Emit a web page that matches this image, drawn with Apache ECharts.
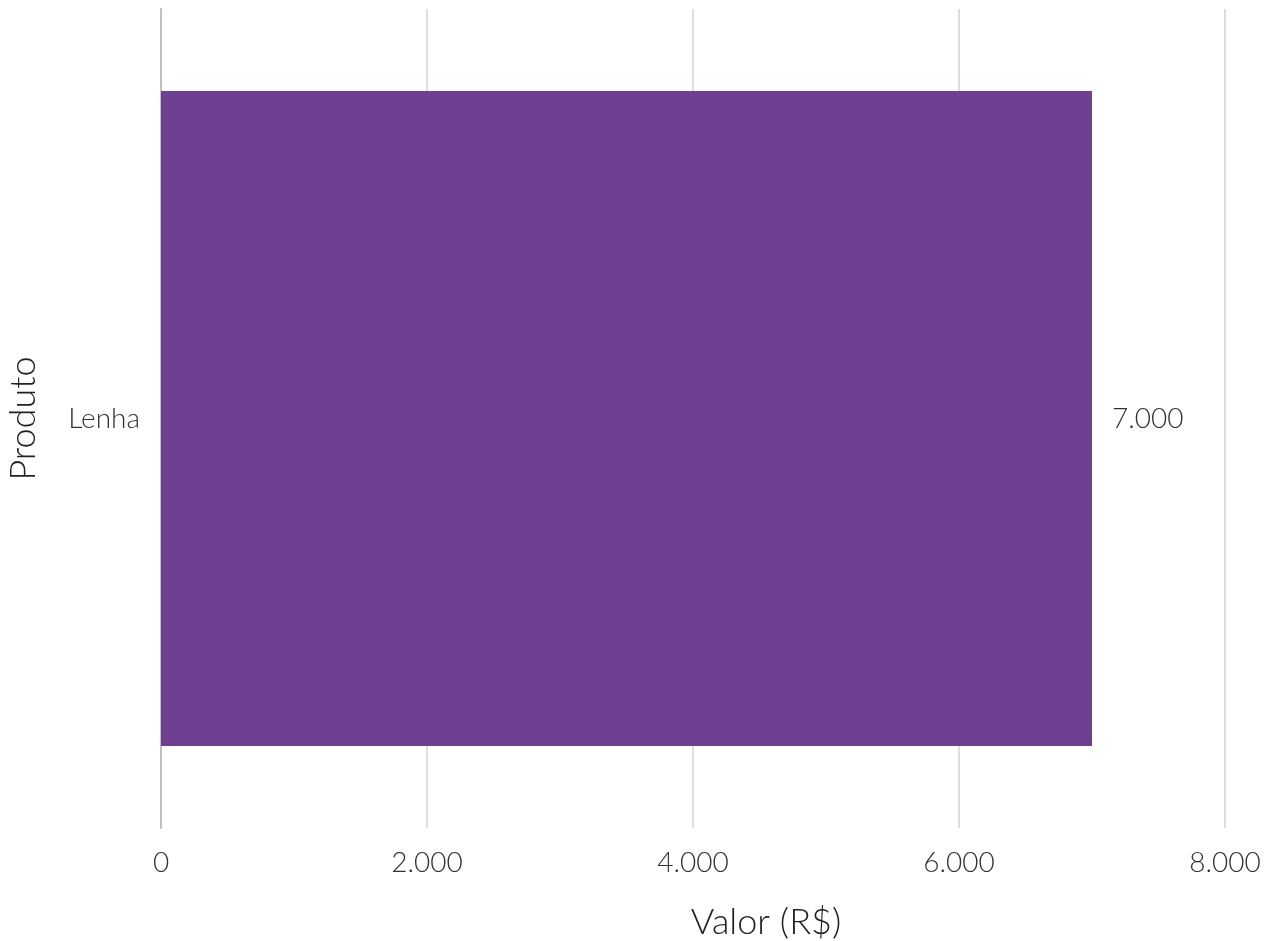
<!DOCTYPE html>
<html><head><meta charset="utf-8">
<script src="https://cdn.jsdelivr.net/npm/echarts@6/dist/echarts.min.js"></script>
<style>html,body{margin:0;padding:0;background:#fff}#c{width:1269px;height:941px}</style>
</head><body><div id="c"></div>
<script>
const categories = ['Lenha'];
const values = [7000];
const xTicks = [0, 2000, 4000, 6000, 8000];

const fmt = v => String(v).replace(/\B(?=(\d{3})+(?!\d))/g, '.');
const font = 'Lato';
const chart = echarts.init(document.getElementById('c'), null, {renderer: 'canvas'});
chart.setOption({
  animation: false,
  backgroundColor: '#ffffff',
  grid: {left: 161, right: 44, top: 9, bottom: 113, containLabel: false, outerBoundsMode: 'none'},
  xAxis: {
    type: 'value', min: xTicks[0], max: xTicks[xTicks.length - 1], interval: 2000,
    name: 'Valor (R$)', nameLocation: 'middle', nameGap: 76,
    nameTextStyle: {fontFamily: font, fontWeight: 300, fontSize: 36, color: '#222', padding: [0, 0, 0, 146]},
    axisLine: {show: false}, axisTick: {show: false},
    axisLabel: {fontFamily: font, fontWeight: 300, fontSize: 28, color: '#333', margin: 21, formatter: v => fmt(v)},
    splitLine: {show: true, lineStyle: {color: '#dedede', width: 2}}
  },
  yAxis: {
    type: 'category', data: categories,
    name: 'Produto', nameLocation: 'middle', nameGap: 120,
    nameTextStyle: {fontFamily: font, fontWeight: 300, fontSize: 36, color: '#222'},
    axisLine: {show: true, lineStyle: {color: '#c0c0c0', width: 2}},
    axisTick: {show: false},
    axisLabel: {fontFamily: font, fontWeight: 300, fontSize: 28, color: '#333', margin: 21}
  },
  series: [{
    type: 'bar', data: values, barWidth: '80%',
    itemStyle: {color: '#6f3f91'},
    label: {show: true, position: 'right', distance: 20, fontFamily: font, fontWeight: 300, fontSize: 28, color: '#333', formatter: p => fmt(p.value)}
  }]
});
</script></body></html>
